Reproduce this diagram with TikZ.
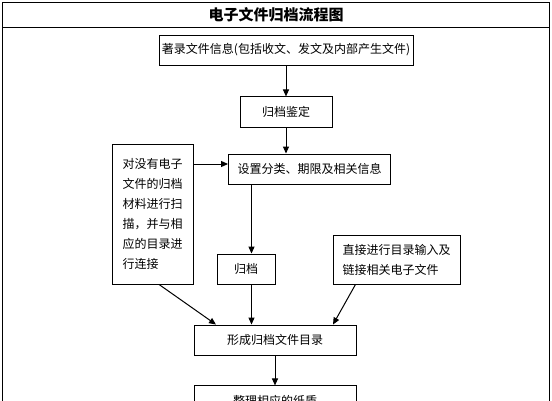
\documentclass[tikz,border=0pt]{standalone}
\usepackage{fontspec}
\setmainfont{Noto Sans CJK SC}
\usetikzlibrary{positioning,arrows.meta}

\begin{document}
\begin{tikzpicture}[
    x=1pt, y=-1pt,
    node distance = 30pt,
    box/.style = {draw, line width=0.9pt, minimum height=30pt, inner sep=0pt,
                  font=\fontsize{12}{20}\selectfont},
    arr/.style = {-{Triangle[length=7pt,width=6pt]}, line width=1pt},
    ttl/.style = {font=\fontsize{15}{18}\selectfont\bfseries},
]
\useasboundingbox (0,0) rectangle (552,400);
\clip (0,0) rectangle (552,400);

% --- frame and title ---
\draw[line width=0.9pt] (2,2) rectangle (549,440);
\draw[line width=0.9pt] (2,27) -- (549,27);
\node[ttl] (title) at (276,15) {电子文件归档流程图};

% --- main column ---
\node[box, minimum width=254pt] (zhulu) at (286,50)
    {著录文件信息(包括收文、发文及内部产生文件)};
\node[box, minimum width=92pt, minimum height=31pt, below=31pt of zhulu] (jianding) {归档鉴定};
\node[box, minimum width=162pt] (shezhi) at (309.5,169) {设置分类、期限及相关信息};

% --- side inputs ---
\node[box, minimum width=81pt, minimum height=140pt, text width=61pt,
      align=left] (saomiao) at (153,214)
    {对没有电子\\文件的归档\\材料进行扫\\描，并与相\\应的目录进\\行连接};
\node[box, minimum width=58pt] (guidang) at (246,269) {归档};
\node[box, minimum width=127pt, minimum height=49pt, text width=108pt,
      align=left] (zhijie) at (396.5,259.5)
    {直接进行目录输入及\\链接相关电子文件};

% --- catalogue and paper files ---
\node[box, minimum width=162pt] (mulu) at (275,340) {形成归档文件目录};
\node[box, minimum width=162pt, below=30pt of mulu] (zhengli) {整理相应的纸质};

% --- arrows ---
\draw[arr] (zhulu) -- (jianding);
\draw[arr] (jianding.south) -- (jianding.south |- shezhi.north);
\draw[arr] ([yshift=50pt]saomiao.east) -- ([yshift=50pt]saomiao.east -| shezhi.west);
\draw[arr] ([xshift=5.5pt]guidang.north |- shezhi.south) -- ([xshift=5.5pt]guidang.north);
\draw[arr] ([xshift=5.5pt]guidang.south) -- ([xshift=5.5pt]guidang.south |- mulu.north);
\draw[arr] ([xshift=6pt]saomiao.south) -- ([xshift=-59pt]mulu.north);
\draw[arr] ([xshift=-41pt]zhijie.south) -- ([xshift=58pt]mulu.north);
\draw[arr] (mulu) -- (zhengli);

\end{tikzpicture}
\end{document}
